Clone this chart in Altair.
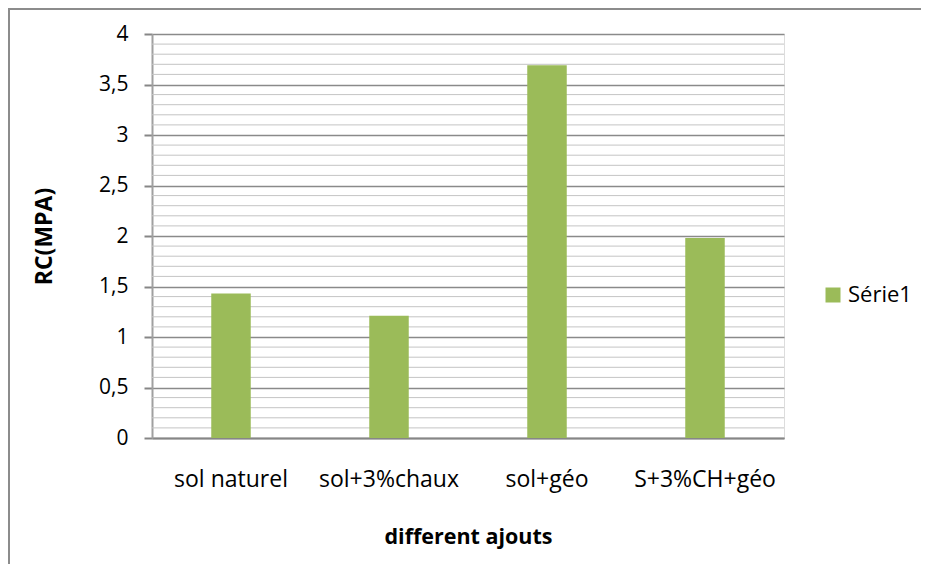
import altair as alt
import pandas as pd

categories = ["sol naturel", "sol+3%chaux", "sol+géo", "S+3%CH+géo"]
values = [1.43, 1.21, 3.69, 1.98]
series_name = "Série1"
major_ticks = [0, 0.5, 1, 1.5, 2, 2.5, 3, 3.5, 4]
minor_ticks = [0.1, 0.2, 0.3, 0.4, 0.6, 0.7, 0.8, 0.9, 1.1, 1.2, 1.3, 1.4,
               1.6, 1.7, 1.8, 1.9, 2.1, 2.2, 2.3, 2.4, 2.6, 2.7, 2.8, 2.9,
               3.1, 3.2, 3.3, 3.4, 3.6, 3.7, 3.8, 3.9]

FONT = "Open Sans"
df = pd.DataFrame({"cat": categories, "val": values, "serie": [series_name] * len(categories)})
grid_df = pd.DataFrame({"val": minor_ticks})

yscale = alt.Scale(domain=[0, 4], nice=False, zero=True)

yaxis = alt.Axis(
    title="RC(MPA)",
    values=major_ticks,
    labelExpr="replace(format(datum.value, ''), '.', ',')",
    tickSize=8,
    tickColor="#868686",
    tickWidth=2,
    labelPadding=16,
    labelFontSize=21,
    labelFont=FONT,
    labelColor="#000000",
    titleFontSize=23,
    titleFont=FONT,
    titleFontWeight="bold",
    titleColor="#000000",
    titlePadding=42,
    domainColor="#A0A0A0",
    domainWidth=2,
    grid=True,
    gridColor="#8A8A8A",
    gridWidth=1.5,
)

minor = alt.Chart(grid_df).mark_rule(color="#C4C4C4", strokeWidth=1).encode(
    y=alt.Y("val:Q", scale=yscale, axis=yaxis)
)

bars = alt.Chart(df).mark_bar(color="#9BBB59").encode(
    x=alt.X(
        "cat:N",
        sort=categories,
        scale=alt.Scale(paddingInner=0.75, paddingOuter=0.375),
        axis=alt.Axis(
            title="different ajouts",
            labelAngle=0,
            ticks=False,
            labelPadding=30,
            labelFontSize=23,
            labelFont=FONT,
            labelColor="#000000",
            titleFontSize=21.5,
            titleFont=FONT,
            titleFontWeight="bold",
            titleColor="#000000",
            titlePadding=35,
            domainColor="#868686",
            domainWidth=2,
            grid=False,
        ),
    ),
    y=alt.Y("val:Q", scale=yscale, axis=yaxis),
    fill=alt.Fill(
        "serie:N",
        scale=alt.Scale(range=["#9BBB59"]),
        legend=alt.Legend(
            title=None,
            orient="none",
            legendX=670,
            legendY=250,
            symbolType="square",
            symbolSize=225,
            symbolStrokeWidth=0,
            labelFontSize=22,
            labelFont=FONT,
            labelColor="#000000",
        ),
    ),
)

one = pd.DataFrame({"a": [0]})
left_border = alt.Chart(one).mark_rule(color="#8C8C8C", strokeWidth=2, clip=False).encode(
    x=alt.value(-143), y=alt.value(-25), y2=alt.value(530)
)
top_border = alt.Chart(one).mark_rule(color="#8C8C8C", strokeWidth=2, clip=False).encode(
    x=alt.value(-144), x2=alt.value(769), y=alt.value(-25)
)

chart = alt.layer(minor, bars, left_border, top_border).properties(
    width=632,
    height=404,
    autosize=alt.AutoSizeParams(type="none"),
    padding={"left": 144, "top": 26, "right": 139, "bottom": 128},
).configure_view(stroke=None).configure(background="white")

chart.save("out.html", embed_options={"renderer": "svg", "actions": False})
